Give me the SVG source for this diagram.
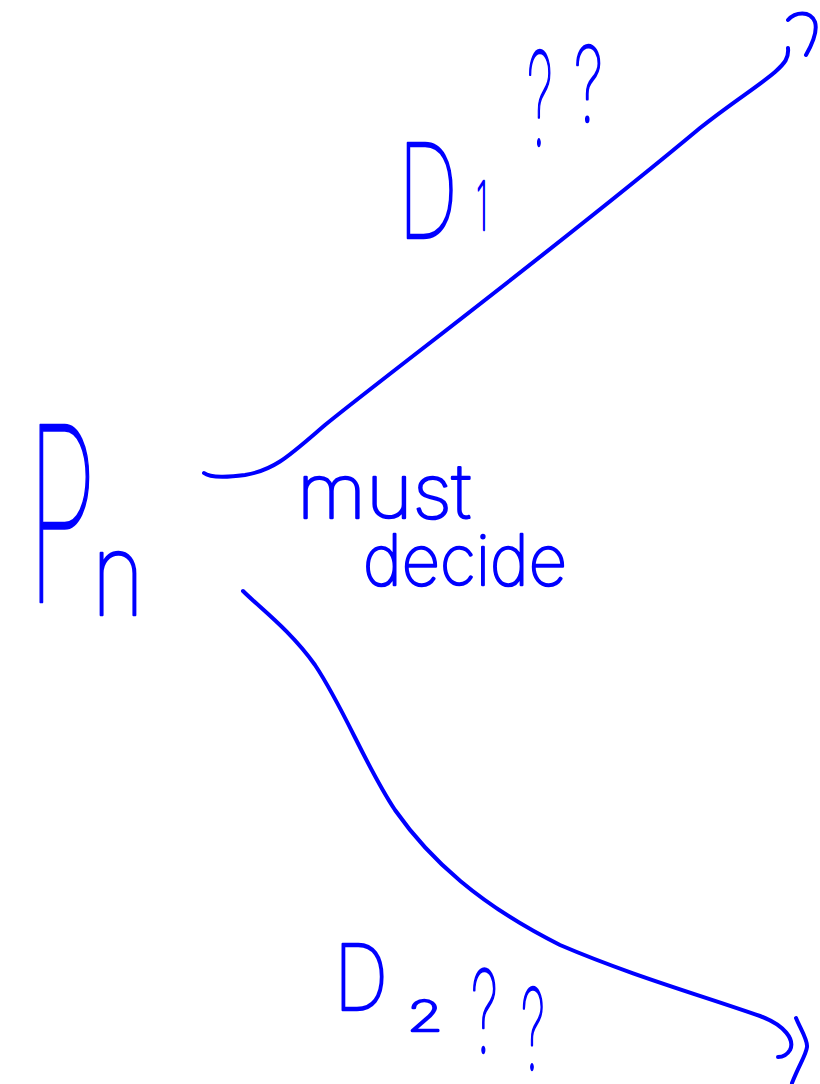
<svg xmlns="http://www.w3.org/2000/svg" width="820" height="1084" viewBox="0 0 820 1084">
  <style>
    .ink { fill: none; stroke: #0000ff; stroke-width: 4; stroke-linecap: round; stroke-linejoin: round; }
    .hand { fill: #0000ff; stroke: #0000ff; stroke-width: 2.5; stroke-linejoin: round; font-family: "Inter", "Roboto", "Lato", "DejaVu Sans", sans-serif; font-weight: 100; }
  </style>
  <rect width="820" height="1084" fill="#ffffff"/>

  <!-- branch strokes -->
  <g id="connectors">
    <path class="ink" d="M204,473 C210,478 230,477 245,475 C275,470 290,455 325,425 C380,380 560,245 700,128 C730,104 760,85 775,72 C785,63 789,58 788,48"/>
    <path class="ink" d="M788,20 C795,12 810,10 815,22 C818,32 810,48 806,55"/>
    <path class="ink" d="M243,591 C260,608 290,630 315,665 C345,710 365,765 395,810 C430,860 480,905 560,945 C630,975 700,995 760,1016 C785,1025 795,1040 790,1050 C787,1055 782,1057 778,1057"/>
    <path class="ink" d="M796,1018 C800,1028 808,1040 807,1047 C806,1055 800,1063 792,1083"/>
  </g>

  <!-- root node -->
  <g id="node-pn">
    <text class="hand"><tspan x="27" y="602" font-size="243" textLength="70" lengthAdjust="spacingAndGlyphs">P</tspan><tspan x="92" y="615" font-size="113" textLength="52" lengthAdjust="spacingAndGlyphs">n</tspan></text>
  </g>

  <!-- upper branch label -->
  <g id="node-d1">
    <text class="hand"><tspan x="398" y="238" font-size="130" textLength="60" lengthAdjust="spacingAndGlyphs">D</tspan><tspan x="476" y="230" font-size="67" textLength="12" lengthAdjust="spacingAndGlyphs">1</tspan><tspan x="527" y="145" font-size="130" textLength="26" lengthAdjust="spacingAndGlyphs">?</tspan><tspan x="574" y="122" font-size="104" textLength="29" lengthAdjust="spacingAndGlyphs">?</tspan></text>
  </g>

  <!-- note at the fork -->
  <g id="node-note">
    <text class="hand" x="297" y="518" font-size="75" textLength="174" lengthAdjust="spacingAndGlyphs">must</text>
    <text class="hand" x="363" y="585" font-size="70" textLength="204" lengthAdjust="spacingAndGlyphs">decide</text>
  </g>

  <!-- lower branch label -->
  <g id="node-d2">
    <text class="hand"><tspan x="334" y="1010" font-size="90" textLength="54" lengthAdjust="spacingAndGlyphs">D</tspan><tspan x="407" y="1031" font-size="42" textLength="36" lengthAdjust="spacingAndGlyphs">2</tspan><tspan x="471" y="1052" font-size="114" textLength="27" lengthAdjust="spacingAndGlyphs">?</tspan><tspan x="521" y="1070" font-size="112" textLength="24" lengthAdjust="spacingAndGlyphs">?</tspan></text>
  </g>
</svg>
